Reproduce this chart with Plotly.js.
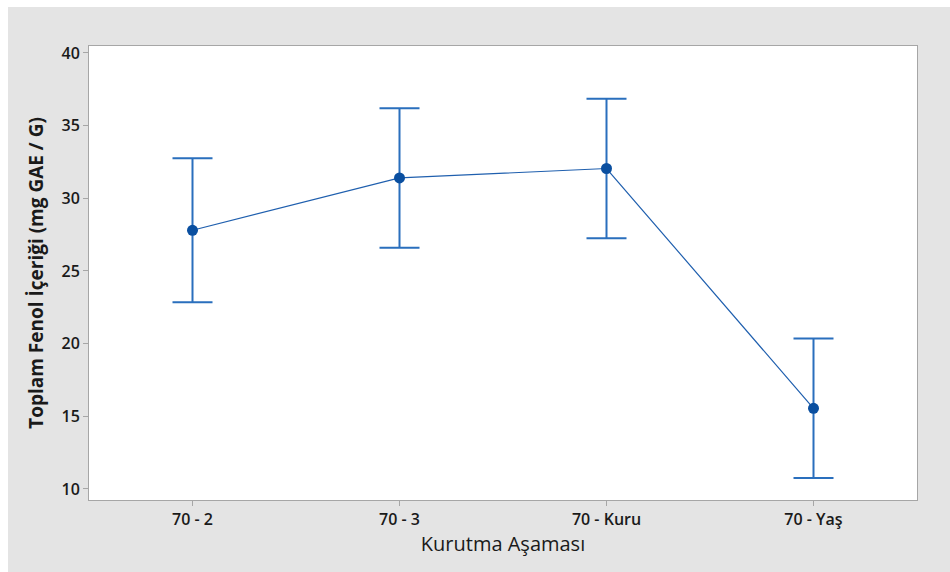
<!DOCTYPE html>
<html>
<head>
<meta charset="utf-8">
<script src="https://cdn.plot.ly/plotly-3.0.1.min.js"></script>
<style>
html,body{margin:0;padding:0;background:#ffffff;}
#chart{position:absolute;left:8px;top:7px;width:942px;height:565px;}
</style>
</head>
<body>
<div id="chart"></div>
<script>
const categories = ["70 - 2", "70 - 3", "70 - Kuru", "70 - Yaş"];
const meanValues = [27.8, 31.4, 32.05, 15.55];
const errorValues = [4.95, 4.8, 4.8, 4.8];
const yTickValues = [10, 15, 20, 25, 30, 35, 40];

const trace = {
  x: categories,
  y: meanValues,
  type: "scatter",
  mode: "lines+markers",
  line: {color: "#1f5fae", width: 1.2},
  marker: {color: "#0a4fa0", size: 11, symbol: "circle"},
  error_y: {type: "data", array: errorValues, visible: true, color: "#2a6fbd", thickness: 2, width: 20},
  showlegend: false,
  hoverinfo: "skip"
};

const layout = {
  width: 942,
  height: 565,
  paper_bgcolor: "#e4e4e4",
  plot_bgcolor: "#ffffff",
  margin: {l: 81, r: 33, t: 39, b: 72},
  font: {family: "Open Sans, DejaVu Sans, sans-serif", color: "#1a1a1a"},
  xaxis: {
    type: "category",
    range: [-0.5, 3.5],
    showline: true, mirror: true, linecolor: "#a6a6a6", linewidth: 1,
    showgrid: false, zeroline: false,
    ticks: "outside", ticklen: 5, tickcolor: "#a6a6a6",
    tickfont: {size: 16, color: "#1a1a1a", family: "Open Sans, sans-serif", weight: 600},
    title: {text: "Kurutma Aşaması", font: {size: 20, color: "#1a1a1a", family: "Open Sans, sans-serif", weight: 500}, standoff: 4}
  },
  yaxis: {
    range: [9.24, 40.48],
    tickvals: yTickValues,
    showline: true, mirror: true, linecolor: "#a6a6a6", linewidth: 1,
    showgrid: false, zeroline: false,
    ticks: "outside", ticklen: 5, tickcolor: "#a6a6a6",
    tickfont: {size: 16, color: "#1a1a1a", family: "Open Sans, sans-serif", weight: 600},
    title: {text: "Toplam Fenol İçeriği (mg GAE / G)", font: {size: 19, color: "#1a1a1a", family: "Open Sans, sans-serif", weight: 700}, standoff: 12}
  }
};

Plotly.newPlot("chart", [trace], layout, {displayModeBar: false, staticPlot: true});
</script>
</body>
</html>
